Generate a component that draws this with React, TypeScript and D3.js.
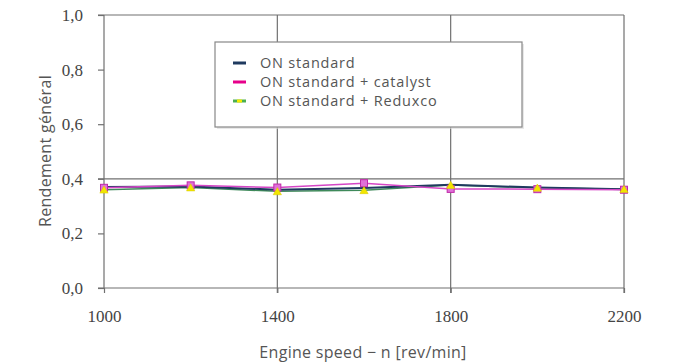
import { useEffect, useRef } from 'react';
import * as d3 from 'd3';

const W = 681;
const H = 364;

const speeds = [1000, 1200, 1400, 1600, 1800, 2000, 2200];
const onStandard = [0.37, 0.372, 0.36, 0.366, 0.378, 0.368, 0.362];
const onCatalyst = [0.367, 0.376, 0.368, 0.384, 0.363, 0.362, 0.36];
const onReduxco = [0.36, 0.368, 0.354, 0.358, 0.377, 0.367, 0.362];

const xTicks = [1000, 1400, 1800, 2200];
const yTicks = [0, 0.2, 0.4, 0.6, 0.8, 1.0];
const legendLabels = ['ON standard', 'ON standard + catalyst', 'ON standard + Reduxco'];

const left = 104;
const right = 624;
const top = 15;
const bottom = 288;

const App = () => {
  const ref = useRef<SVGSVGElement>(null);

  useEffect(() => {
    const svg = d3.select(ref.current);
    svg.selectAll('*').remove();

    const x = d3.scaleLinear().domain([1000, 2200]).range([left, right]);
    const y = d3.scaleLinear().domain([0, 1]).range([bottom, top]);
    const grid = '#707070';

    const g = svg.append('g');

    // frame top, vertical grid lines at 1400/1800/2200
    g.append('line').attr('x1', left - 6).attr('x2', right).attr('y1', top).attr('y2', top)
      .attr('stroke', grid).attr('stroke-width', 1.2);
    xTicks.slice(1).forEach((t) => {
      g.append('line').attr('x1', x(t)).attr('x2', x(t)).attr('y1', top).attr('y2', bottom + 5)
        .attr('stroke', grid).attr('stroke-width', 1.2);
    });
    // 0.4 grid line
    g.append('line').attr('x1', left - 6).attr('x2', right).attr('y1', y(0.4)).attr('y2', y(0.4))
      .attr('stroke', grid).attr('stroke-width', 1.2);

    // axes
    const yAxis = g.append('g').attr('transform', `translate(${left},0)`)
      .call(d3.axisLeft(y).tickValues(yTicks).tickSize(6).tickPadding(15)
        .tickFormat((d) => d3.format('.1f')(d as number).replace('.', ',')));
    const xAxis = g.append('g').attr('transform', `translate(0,${bottom})`)
      .call(d3.axisBottom(x).tickValues(xTicks).tickSize(5).tickPadding(17).tickFormat(d3.format('d')));
    [xAxis, yAxis].forEach((a) => {
      a.select('.domain').attr('stroke', grid).attr('stroke-width', 1.2);
      a.selectAll('.tick line').attr('stroke', grid).attr('stroke-width', 1.2);
      a.selectAll('.tick text').attr('fill', '#444')
        .attr('font-family', '"Liberation Serif", serif').attr('font-size', 17);
    });
    yAxis.select('.domain').attr('d', `M0,${top}V${bottom}`);
    xAxis.select('.domain').attr('d', `M${left - 6},0H${right}`);

    // legend box
    const lg = g.append('g');
    lg.append('rect').attr('x', 217).attr('y', 44).attr('width', 307).attr('height', 85)
      .attr('fill', '#d8d8d8').attr('opacity', 0.6);
    lg.append('rect').attr('x', 215).attr('y', 42).attr('width', 307).attr('height', 85)
      .attr('fill', '#fff').attr('stroke', '#888').attr('stroke-width', 1.2);

    const line = d3.line<number>().x((_, i) => x(speeds[i])).y((d) => y(d));

    g.append('path').datum(onReduxco).attr('d', line).attr('fill', 'none')
      .attr('stroke', '#3f8a5a').attr('stroke-width', 1.5);
    g.append('path').datum(onStandard).attr('d', line).attr('fill', 'none')
      .attr('stroke', '#1f3a5f').attr('stroke-width', 2);
    g.append('path').datum(onCatalyst).attr('d', line).attr('fill', 'none')
      .attr('stroke', '#d546c6').attr('stroke-width', 1.5);

    g.selectAll('.sq').data(onCatalyst).enter().append('rect')
      .attr('x', (_, i) => x(speeds[i]) - 3.5).attr('y', (d) => y(d) - 3.5)
      .attr('width', 7).attr('height', 7)
      .attr('fill', '#e070d8').attr('stroke', '#c02aa8').attr('stroke-width', 1);
    const tri = d3.symbol().type(d3.symbolTriangle).size(30);
    g.selectAll('.tri').data(onReduxco).enter().append('path')
      .attr('d', tri)
      .attr('transform', (d, i) => `translate(${x(speeds[i])},${y(d) + 1})`)
      .attr('fill', '#f2e600').attr('stroke', '#d8c800').attr('stroke-width', 0.5);

    // legend entries
    const rowY = [63, 82, 101];
    legendLabels.forEach((lab, i) => {
      const ry = rowY[i];
      if (i === 0) {
        lg.append('line').attr('x1', 233).attr('x2', 246).attr('y1', ry).attr('y2', ry)
          .attr('stroke', '#1f3a5f').attr('stroke-width', 3);
      } else if (i === 1) {
        lg.append('line').attr('x1', 233).attr('x2', 246).attr('y1', ry).attr('y2', ry)
          .attr('stroke', '#e6008a').attr('stroke-width', 3);
      } else {
        lg.append('line').attr('x1', 233).attr('x2', 246).attr('y1', ry).attr('y2', ry)
          .attr('stroke', '#4caf50').attr('stroke-width', 3);
        lg.append('line').attr('x1', 237).attr('x2', 242).attr('y1', ry).attr('y2', ry)
          .attr('stroke', '#f5ea00').attr('stroke-width', 3);
      }
      lg.append('text').attr('x', 260).attr('y', ry).attr('dy', '0.35em')
        .attr('font-family', '"Open Sans", sans-serif').attr('font-size', 14.5)
        .attr('letter-spacing', 0.8).attr('fill', '#555').text(lab);
    });

    // axis titles
    g.append('text').attr('x', 363).attr('y', 358).attr('text-anchor', 'middle')
      .attr('font-family', '"Open Sans", sans-serif').attr('font-size', 16).attr('fill', '#555')
      .attr('letter-spacing', 0.3)
      .text('Engine speed − n [rev/min]');
    g.append('text').attr('transform', `translate(45,151) rotate(-90)`)
      .attr('text-anchor', 'middle').attr('dy', '0.35em')
      .attr('font-family', '"Open Sans", sans-serif').attr('font-size', 16).attr('fill', '#555')
      .attr('letter-spacing', 0.3)
      .text('Rendement  général');
  }, []);

  return (
    <svg ref={ref} width={W} height={H} viewBox={`0 0 ${W} ${H}`}
      style={{ position: 'absolute', left: 0, top: 0, background: '#fff' }} />
  );
};

export default App;
